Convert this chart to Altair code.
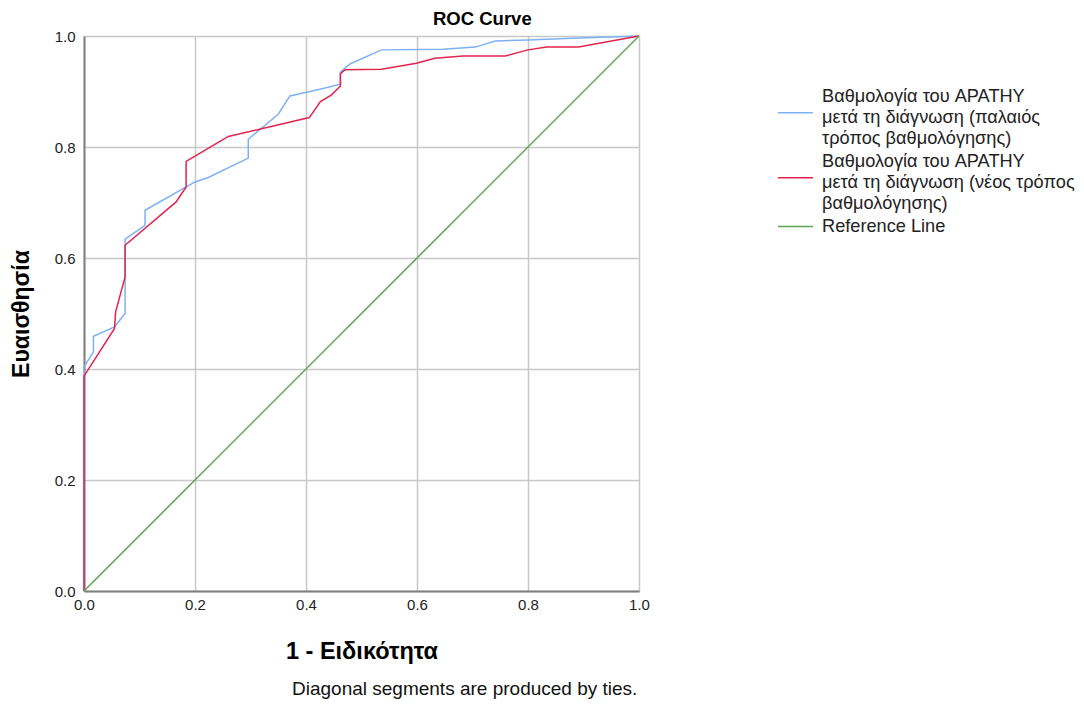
import altair as alt
import pandas as pd

FONT = "Liberation Sans"

# Series names (legend labels, wrapped with newlines)
name_old = "Βαθμολογία του APATHY\nμετά τη διάγνωση (παλαιός\nτρόπος βαθμολόγησης)"
name_new = "Βαθμολογία του APATHY\nμετά τη διάγνωση (νέος τρόπος\nβαθμολόγησης)"
name_ref = "Reference Line"

# Old scoring ROC (blue)
old_fpr = [0.0, 0.0, 0.017, 0.017, 0.055, 0.074, 0.074, 0.110, 0.110, 0.200, 0.224,
           0.296, 0.296, 0.350, 0.371, 0.425, 0.462, 0.462, 0.480, 0.536, 0.647,
           0.705, 0.741, 0.800, 0.880, 1.0]
old_tpr = [0.0, 0.404, 0.431, 0.459, 0.476, 0.500, 0.634, 0.659, 0.686, 0.737, 0.745,
           0.780, 0.814, 0.859, 0.892, 0.904, 0.913, 0.935, 0.950, 0.975, 0.976,
           0.980, 0.991, 0.993, 0.996, 1.0]

# New scoring ROC (red)
new_fpr = [0.0, 0.0, 0.055, 0.057, 0.074, 0.074, 0.166, 0.184, 0.184, 0.260, 0.406,
           0.426, 0.446, 0.462, 0.462, 0.470, 0.536, 0.599, 0.632, 0.683, 0.759,
           0.800, 0.834, 0.891, 1.0]
new_tpr = [0.0, 0.387, 0.473, 0.503, 0.566, 0.623, 0.701, 0.728, 0.774, 0.819, 0.853,
           0.882, 0.894, 0.910, 0.932, 0.939, 0.940, 0.951, 0.960, 0.964, 0.964,
           0.975, 0.980, 0.980, 1.0]

# Reference diagonal
ref_fpr = [0.0, 1.0]
ref_tpr = [0.0, 1.0]

ticks = [0.0, 0.2, 0.4, 0.6, 0.8, 1.0]
footnote = "Diagonal segments are produced by ties."

rows = []
for name, xs, ys in [(name_old, old_fpr, old_tpr), (name_new, new_fpr, new_tpr), (name_ref, ref_fpr, ref_tpr)]:
    for i, (a, b) in enumerate(zip(xs, ys)):
        rows.append({"series": name, "fpr": a, "tpr": b, "idx": i})
df = pd.DataFrame(rows)

domain = [name_old, name_new, name_ref]
colors = ["#7EB1F2", "#E3234E", "#5FA552"]
# legend line symbols: the two wrapped entries have their line beside the 2nd text row
symbol_paths = ["M-2,1.85H2", "M-2,1.85H2", "M-2,0H2"]

legend = alt.Legend(title=None, orient="none", legendX=702, legendY=51,
                    symbolSize=306.25, symbolStrokeWidth=1.5, symbolOpacity=1,
                    symbolFillColor="transparent",
                    labelFontSize=18.2, labelLimit=400, labelOffset=17, rowPadding=4,
                    padding=0, labelExpr="split(datum.label, '\\n')")

x_enc = alt.X("fpr:Q", scale=alt.Scale(domain=[0, 1], nice=False),
              axis=alt.Axis(values=ticks, format=".1f", title="1 - Ειδικότητα",
                            labelFlush=False, labelPadding=6,
                            titleY=60, titleBaseline="middle"))
y_enc = alt.Y("tpr:Q", scale=alt.Scale(domain=[0, 1], nice=False),
              axis=alt.Axis(values=ticks, format=".1f", title="Ευαισθησία",
                            titleX=-63, titleBaseline="middle", titleFontSize=23))
color_enc = alt.Color("series:N", scale=alt.Scale(domain=domain, range=colors), legend=legend)

lines = alt.Chart(df).mark_line(strokeWidth=1.5).encode(
    x=x_enc, y=y_enc, color=color_enc, order="idx:Q", detail="series:N",
)

# invisible points that only supply the per-entry legend symbol shapes
keys = alt.Chart(df).mark_point(filled=False, opacity=0, size=0).encode(
    x=x_enc, y=y_enc, color=color_enc,
    shape=alt.Shape("series:N", scale=alt.Scale(domain=domain, range=symbol_paths), legend=legend),
)

note = alt.Chart(pd.DataFrame({"t": [footnote]})).mark_text(
    align="left", baseline="middle", fontSize=19, font=FONT, color="#111111"
).encode(text="t:N", x=alt.value(208), y=alt.value(653))

chart = alt.layer(lines, keys, note).properties(
    width=555, height=555,
    title=alt.TitleParams("ROC Curve", anchor="start", frame="group", dx=349, dy=3,
                          fontSize=18.5, fontWeight="bold", font=FONT, color="#000000"),
    autosize=alt.AutoSizeParams(type="none"),
    padding={"left": 76, "top": 28, "right": 437, "bottom": 110},
).configure(
    font=FONT,
    style={"guide-label": {"lineHeight": 21}},
).configure_axis(
    grid=True, gridColor="#C8C8C8", gridWidth=1.5,
    domainColor="#7F7F7F", domainWidth=2,
    ticks=False, labelPadding=9, labelFontSize=15, labelColor="#222222",
    titleFontSize=23.5, titleFontWeight="bold", titleColor="#000000", labelFont=FONT, titleFont=FONT,
).configure_view(stroke=None).configure_legend(labelFont=FONT, labelColor="#222222")

chart.save("out.html", embed_options={"renderer": "svg", "actions": False})
